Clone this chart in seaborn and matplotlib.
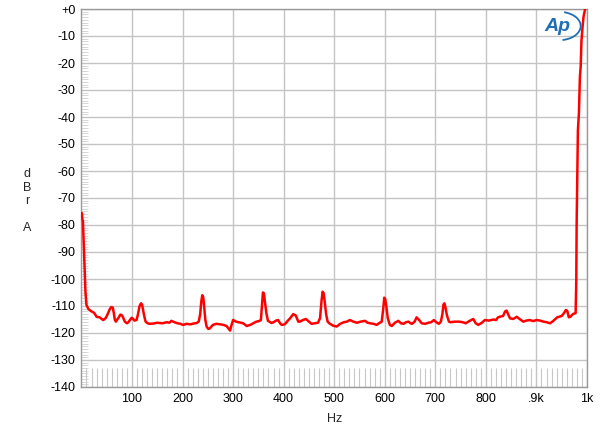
import numpy as np
import pandas as pd
import matplotlib
matplotlib.use("Agg")
import matplotlib.pyplot as plt
import seaborn as sns
from matplotlib.ticker import MultipleLocator
from matplotlib.patches import Arc

freq_hz = [1, 2, 3, 4, 5, 6, 8, 10, 14, 20, 25, 30, 36, 43, 48, 52, 56, 59, 62, 64, 66, 68,
           71, 74, 77, 80, 83, 86, 90, 93, 96, 99, 101, 105, 109, 112, 115, 118, 120, 122,
           124, 127, 131, 135, 142, 150, 160, 169, 174, 178, 184, 190, 196, 201, 208, 215,
           222, 228, 232, 235, 237, 239, 241, 243, 245, 247.6, 251, 254, 260, 267, 275, 281,
           287, 291, 294, 297, 300, 306, 313, 320, 327, 334, 340, 346, 351, 355, 357, 359,
           361, 363, 366, 369, 372, 376, 380, 385, 389, 393, 396, 402, 408, 413, 419, 424,
           429, 432, 438, 444, 450, 455, 462, 468, 472, 475, 477, 479, 481, 484, 487, 491,
           498, 505, 512, 519, 525, 531, 538, 545, 552, 561, 566, 571, 578, 584, 590, 594,
           597, 599, 601, 603, 606, 610, 614, 620, 627, 632, 637, 642, 647, 651, 654, 659,
           663, 668, 673, 680, 686, 692, 697, 702, 707, 711, 714, 716, 718, 720, 723, 727,
           730, 738, 747, 754, 760, 768, 775, 780, 785, 792, 798, 806, 815, 820, 824, 829,
           834, 838, 841, 845, 848, 854, 861, 868, 874, 880, 887, 894, 900, 907, 914, 920,
           927, 934, 941, 946, 950, 955, 958, 961, 964, 967, 972, 976, 977.5, 978.8, 979.5,
           980.8, 982, 984, 986, 987.5, 989, 990.7, 993, 997.4]
level_dbr = [-75.6, -78.0, -78.5, -83.7, -88.0, -93.6, -104.7, -109.6, -111.2, -112.0,
             -112.5, -114.0, -114.2, -115.2, -114.5, -113.0, -111.2, -110.4, -110.6, -112.5,
             -115.0, -115.8, -115.0, -114.2, -113.2, -113.4, -114.5, -115.8, -116.4, -116.0,
             -115.2, -114.4, -114.5, -115.4, -115.2, -113.0, -110.0, -109.0, -109.5, -111.5,
             -113.5, -115.8, -116.4, -116.6, -116.5, -116.2, -116.4, -116.0, -116.2, -115.5,
             -116.0, -116.4, -116.6, -117.0, -116.6, -116.8, -116.5, -116.3, -115.8, -113.0,
             -108.5, -106.0, -106.8, -110.5, -115.0, -117.6, -118.5, -118.3, -117.0, -116.6,
             -116.8, -117.0, -117.4, -118.4, -119.1, -117.0, -115.2, -115.8, -116.1, -116.4,
             -117.4, -117.0, -116.4, -115.8, -115.6, -115.2, -110.0, -105.0, -105.3, -108.5,
             -112.8, -115.5, -115.8, -116.3, -116.0, -115.4, -115.2, -116.4, -117.0, -116.8,
             -115.5, -114.5, -113.0, -113.5, -115.8, -115.8, -115.2, -114.8, -115.8, -116.6,
             -116.4, -116.2, -114.5, -108.0, -104.7, -105.2, -108.0, -113.0, -115.8, -116.5,
             -117.3, -117.6, -116.6, -116.0, -115.8, -115.2, -115.8, -116.2, -115.8, -115.5,
             -116.2, -116.4, -116.6, -117.0, -116.2, -115.8, -111.0, -106.9, -107.5, -110.0,
             -114.5, -117.0, -117.4, -116.2, -115.5, -116.4, -116.6, -116.0, -115.8, -116.4,
             -116.6, -115.8, -114.2, -115.2, -116.4, -116.6, -116.2, -116.0, -115.2, -116.0,
             -116.6, -115.8, -113.0, -109.5, -109.0, -110.5, -113.5, -115.8, -116.0, -115.8,
             -115.8, -116.0, -116.4, -115.5, -114.8, -116.4, -117.0, -116.2, -115.2, -115.4,
             -115.0, -115.2, -114.2, -113.9, -113.7, -112.0, -111.7, -113.5, -114.6, -114.8,
             -114.0, -115.0, -115.8, -115.4, -115.2, -115.6, -115.2, -115.4, -115.8, -116.0,
             -116.4, -115.4, -114.2, -113.9, -113.7, -112.5, -111.5, -111.8, -114.2, -114.0,
             -113.0, -112.7, -112.6, -100.4, -80.0, -62.0, -45.0, -38.6, -25.0, -21.4,
             -12.0, -7.8, -3.0, 1.0]

y_ticks = list(range(0, -150, -10))
y_tick_labels = ["+0"] + [str(v) for v in y_ticks[1:]]
x_ticks = [100, 200, 300, 400, 500, 600, 700, 800, 900, 1000]
x_tick_labels = ["100", "200", "300", "400", "500", "600", "700", "800", ".9k", "1k"]

sns.set_style("white")
plt.rcParams['font.family'] = ['Liberation Sans', 'DejaVu Sans']

fig = plt.figure(figsize=(6.0, 4.32), dpi=100)
ax = fig.add_axes([81.4 / 600, 1 - 387 / 432, (587 - 81.4) / 600, (387 - 9) / 432])

df = pd.DataFrame({"Hz": freq_hz, "dBr": level_dbr})
sns.lineplot(data=df, x="Hz", y="dBr", ax=ax, color="#ff0000", linewidth=1.8,
             zorder=5)

ax.set_xlim(0, 1000)
ax.set_ylim(-140, 0)

ax.set_xticks(x_ticks)
ax.set_xticklabels(x_tick_labels)
ax.set_yticks(y_ticks)
ax.set_yticklabels(y_tick_labels)
ax.tick_params(axis="both", which="major", length=0, labelsize=9, colors="#000000", pad=4)

ax.grid(True, which="major", color="#c4c4c4", linewidth=1.0)
ax.set_axisbelow(True)
for s in ax.spines.values():
    s.set_color("#9a9a9a")
    s.set_linewidth(1.0)

ax.xaxis.set_minor_locator(MultipleLocator(10))
ax.yaxis.set_minor_locator(MultipleLocator(1))
ax.tick_params(axis="x", which="minor", direction="in", length=14, width=0.8,
               color="#c8c8c8", bottom=True)
ax.tick_params(axis="y", which="minor", direction="in", length=5, width=0.6,
               color="#d0d0d0", left=True)

ax.set_xlabel("Hz", fontsize=9, labelpad=6)
ax.set_ylabel("")
fig.text(27 / 600, 1 - 201 / 432, "d\nB\nr\n\nA", fontsize=9, ha="center", va="center",
         linespacing=1.15)

# Ap logo
ax.text(0.942, 0.955, "Ap", transform=ax.transAxes, fontsize=14, color="#1f6fb5",
        style="italic", weight="bold", ha="center", va="center", zorder=6)
arc = Arc((0.945, 0.955), 0.085, 0.075, angle=0, theta1=-80, theta2=75,
          transform=ax.transAxes, color="#1f6fb5", linewidth=1.3, zorder=6)
ax.add_patch(arc)

fig.savefig("out.png", dpi=100)
